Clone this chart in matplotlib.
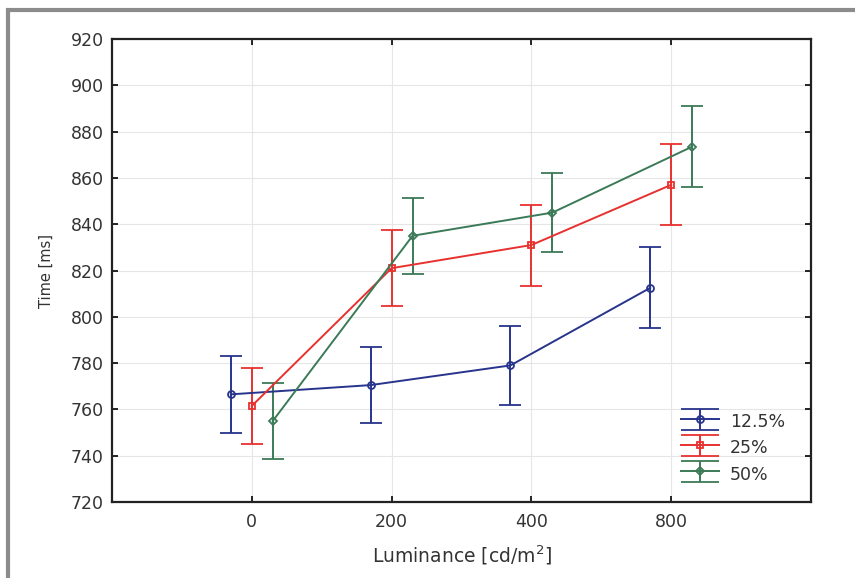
import numpy as np
import matplotlib.pyplot as plt
from matplotlib.patches import Rectangle
from matplotlib.lines import Line2D
from matplotlib.legend_handler import HandlerErrorbar

plt.rcParams['font.family'] = ['DejaVu Sans']

lum_labels = ["0", "200", "400", "800"]
series = ["12.5%", "25%", "50%"]
means = [
    [766.5, 770.5, 779.0, 812.5],
    [761.5, 821.0, 831.0, 857.0],
    [755.0, 835.0, 845.0, 873.5],
]
errs = [
    [16.5, 16.5, 17.0, 17.5],
    [16.5, 16.5, 17.5, 17.5],
    [16.5, 16.5, 17.0, 17.5],
]
colors = ["#27348b", "#e8312f", "#3b7a57"]
markers = ["o", "s", "D"]
offsets = [-0.15, 0.0, 0.15]

fig = plt.figure(figsize=(8.55, 5.78), dpi=100)
ax = fig.add_axes([112/855, 1-502/578, (811-112)/855, (502-39)/578])

x = np.arange(len(lum_labels))
for m, e, c, mk, off, lab in zip(means, errs, colors, markers, offsets, series):
    ax.errorbar(x + off, m, yerr=e, color=c, marker=mk, ms=5 if mk != "D" else 4,
                mfc="none", mec=c, mew=1.3, lw=1.4, capsize=8, capthick=1.4,
                elinewidth=1.4, label=lab)

ax.set_xlim(-1, 4)
ax.set_ylim(720, 920)
ax.set_xticks(x)
ax.set_xticklabels(lum_labels)
ax.set_yticks(np.arange(720, 921, 20))
ax.grid(True, color="#e6e6e6", lw=0.8)
ax.set_axisbelow(True)
ax.tick_params(direction="in", length=4, width=1.2, labelsize=12.5,
               labelcolor="#333333", top=True, right=True, pad=6)
ax.tick_params(axis="x", pad=8)
for s in ax.spines.values():
    s.set_linewidth(1.6)
    s.set_color("#222222")

ax.set_ylabel("Time [ms]", fontsize=10.5, color="#333333", labelpad=12)
ax.set_xlabel("Luminance [cd/m$^2$]", fontsize=13.5, color="#333333", labelpad=9)

leg = ax.legend(loc="lower right", bbox_to_anchor=(0.985, 0.005), frameon=False,
                fontsize=12.5, handlelength=2.2, handleheight=1.45,
                labelspacing=0.32, handletextpad=0.6,
                handler_map={type(ax.containers[0]): HandlerErrorbar(yerr_size=0.6)})
for t in leg.get_texts():
    t.set_color("#333333")
for ln in leg.findobj(Line2D):
    if ln.get_marker() == "_":
        ln.set_markersize(27)

fig.patches.append(Rectangle((8/855, -0.1), 1.2, 1.1 - 10/578,
                             transform=fig.transFigure, fill=False,
                             edgecolor="#8c8c8c", lw=3))

fig.savefig("out.png", dpi=100)
